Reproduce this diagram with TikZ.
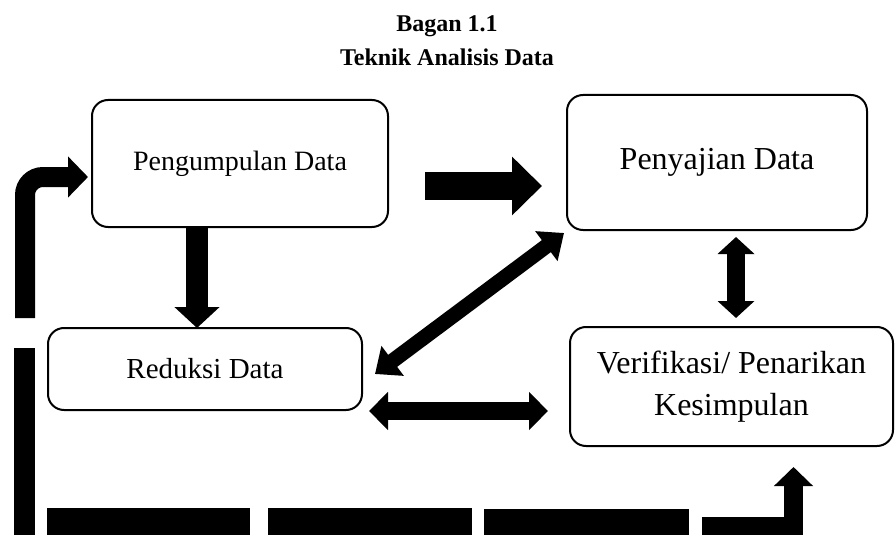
\documentclass[tikz,border=0pt]{standalone}
\usepackage{fontspec}
\setmainfont{Liberation Serif}
\usetikzlibrary{arrows.meta}
\begin{document}
\begin{tikzpicture}[x=1pt,y=-1pt,
  box/.style={draw, line width=2pt, rounded corners=16pt, inner sep=0pt, align=center},
  titlefont/.style={font=\bfseries\fontsize{24}{29}\selectfont, anchor=base, inner sep=0pt},
  blk/.style={line width=#1, draw=black},
  bar/.style={fill=black}]
\useasboundingbox (0,0) rectangle (895,535);
% titles
\node[titlefont] (t1) at (447,32) {Bagan 1.1};
\node[titlefont] (t2) at (447,66) {Teknik Analisis Data};
% boxes
\node[box, minimum width=296pt, minimum height=127pt, font=\fontsize{28}{32}\selectfont] (peng) at (240,163.5) {Pengumpulan Data};
\node[box, minimum width=300pt, minimum height=135pt, font=\fontsize{32}{36}\selectfont] (saji) at (717,162.5) {Penyajian Data};
\node[box, minimum width=314pt, minimum height=82pt, font=\fontsize{29}{34}\selectfont] (red) at (205,369) {Reduksi Data};
\node[box, minimum width=323pt, minimum height=119pt, font=\fontsize{32}{42}\selectfont] (ver) at (731.5,386.5) {Verifikasi/ Penarikan\\Kesimpulan};
% connector points
\coordinate (loopA) at (25,318);
\coordinate (loopB) at (88,177);
\coordinate (downA) at (197,227);
\coordinate (downB) at (197,328);
\coordinate (rA) at (425,186);
\coordinate (rB) at (542,186);
\coordinate (vA) at (736,237);
\coordinate (vB) at (736,318);
\coordinate (dA) at (564,233);
\coordinate (dB) at (375,374);
\coordinate (hA) at (369,411);
\coordinate (hB) at (548,411);
\coordinate (brA) at (702,526);
\coordinate (brB) at (793.5,467);
% block arrows
\draw[blk=20pt, rounded corners=18pt, -{Triangle[length=20pt,width=40pt]}] (loopA) |- (loopB);
\draw[blk=22pt, -{Triangle[length=21pt,width=44pt]}] (downA) -- (downB);
\draw[blk=28pt, -{Triangle[length=30pt,width=57pt]}] (rA) -- (rB);
\draw[blk=18pt, {Triangle[length=17pt,width=36pt]}-{Triangle[length=17pt,width=36pt]}] (vA) -- (vB);
\draw[blk=15pt, {Triangle[length=22pt,width=36pt]}-{Triangle[length=22pt,width=36pt]}] (dA) -- (dB);
\draw[blk=18pt, {Triangle[length=19pt,width=37pt]}-{Triangle[length=19pt,width=37pt]}] (hA) -- (hB);
\draw[blk=19pt, -{Triangle[length=19pt,width=38pt]}] (brA) -| (brB);
% bars
\fill[bar] (14,348) rectangle (35,535);
\fill[bar] (47,508) rectangle (250,535);
\fill[bar] (268,508) rectangle (472,535);
\fill[bar] (484,509) rectangle (689,535);
\end{tikzpicture}
\end{document}
